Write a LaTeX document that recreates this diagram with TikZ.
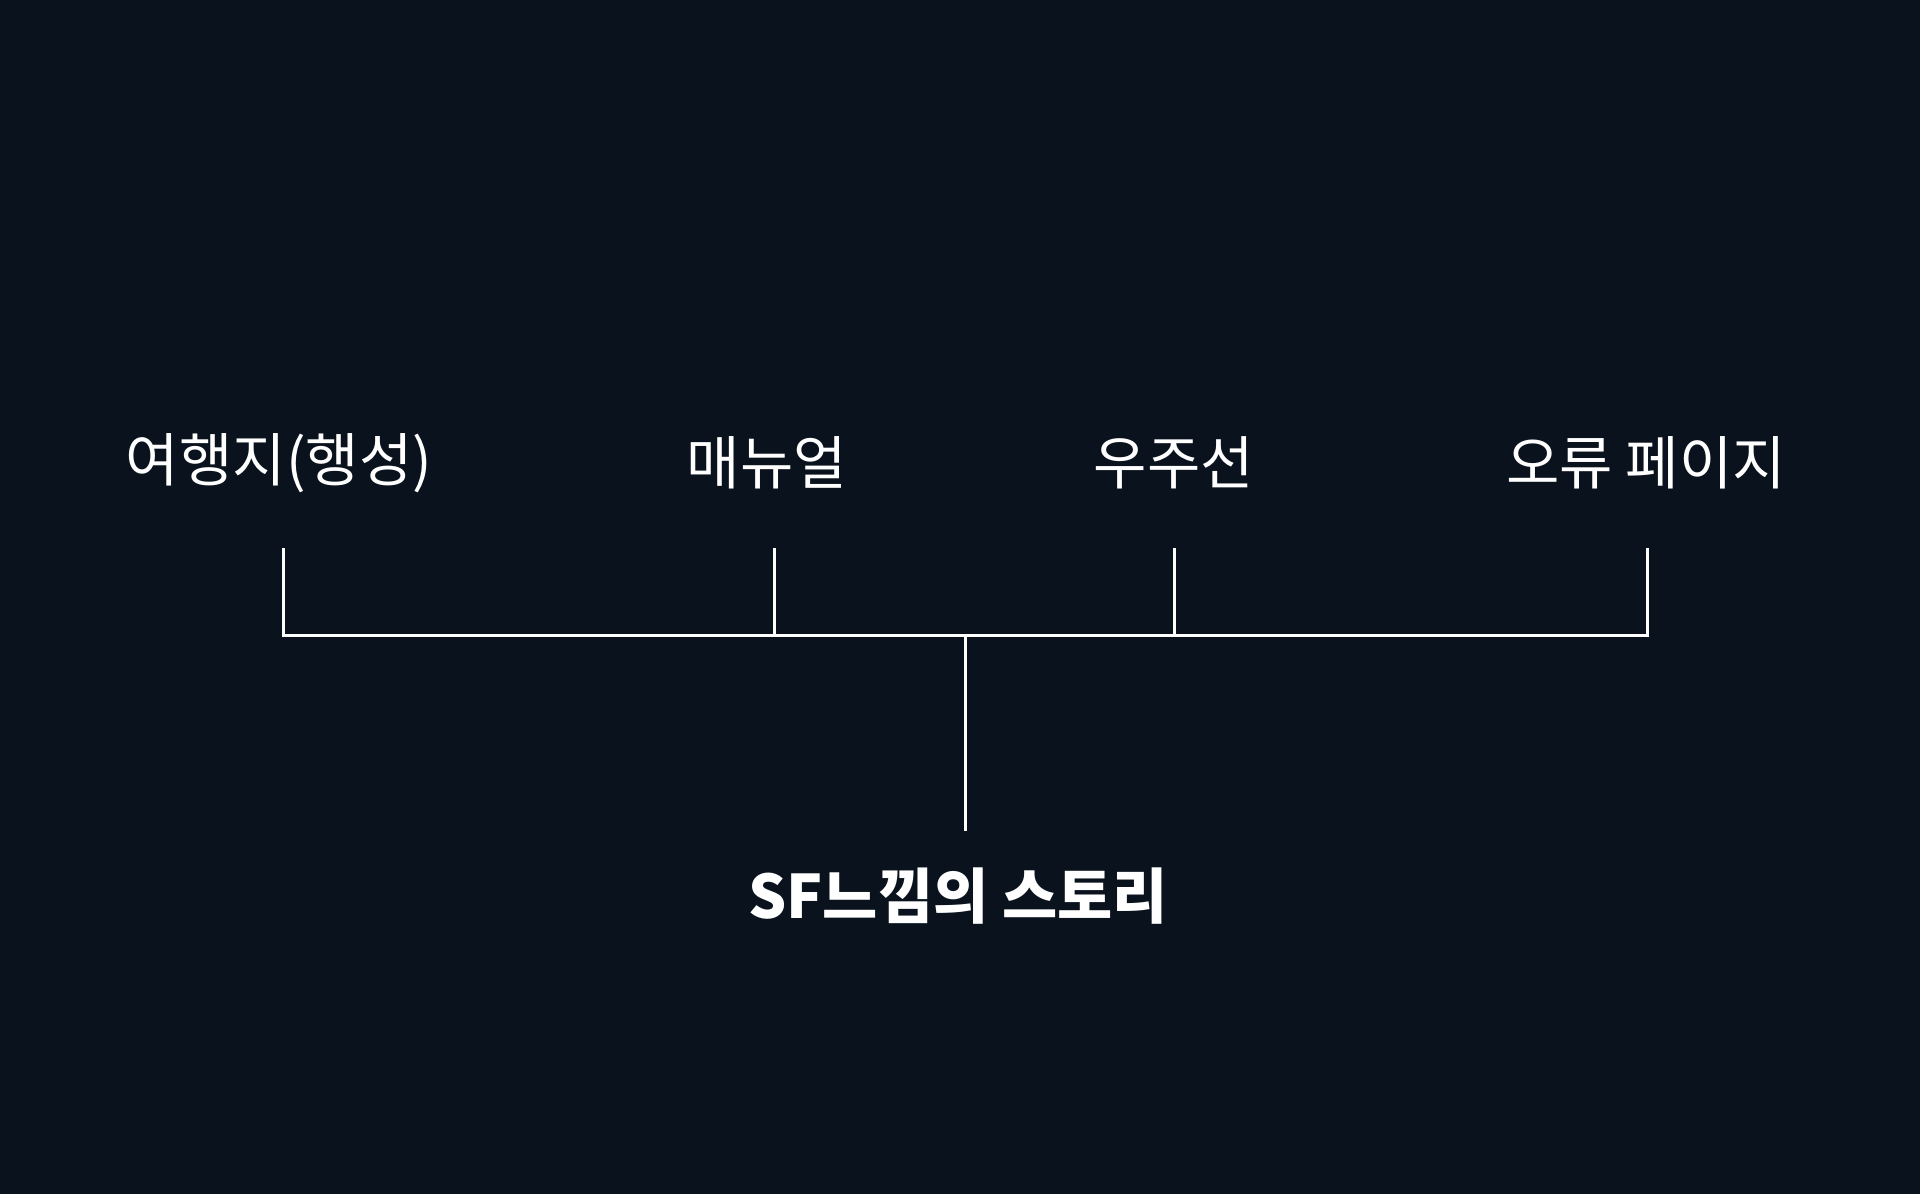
\documentclass[tikz,border=0pt]{standalone}
\usepackage{fontspec}
\setmainfont{Noto Sans CJK KR}
\definecolor{bgc}{RGB}{10,19,29}
\begin{document}
\begin{tikzpicture}[x=1pt,y=-1pt,
  lbl/.style={text=white,inner sep=0pt,font=\fontsize{58}{64}\selectfont},
  rootlbl/.style={text=white,inner sep=0pt,font=\bfseries\fontsize{60}{66}\selectfont},
  conn/.style={draw=white,line width=3pt}]
\fill[bgc] (0,0) rectangle (1920,1194);
\useasboundingbox (0,0) rectangle (1920,1194);
\node[lbl] (t1) at (279,463) {여행지(행성)};
\node[lbl] (t2) at (767,463) {매뉴얼};
\node[lbl] (t3) at (1174,463) {우주선};
\node[lbl] (t4) at (1646,463) {오류 페이지};
\node[rootlbl] (r) at (958,896) {SF느낌의 스토리};
\coordinate (a1) at (283,548);
\coordinate (a2) at (774,548);
\coordinate (a3) at (1174,548);
\coordinate (a4) at (1647,548);
\coordinate (j) at (965,635);
\coordinate (s) at (965,831);
\draw[conn] (a1) -- (a1 |- j) -- (a4 |- j) -- (a4);
\draw[conn] (a2) -- (a2 |- j);
\draw[conn] (a3) -- (a3 |- j);
\draw[conn] (j) -- (s);
\end{tikzpicture}
\end{document}
